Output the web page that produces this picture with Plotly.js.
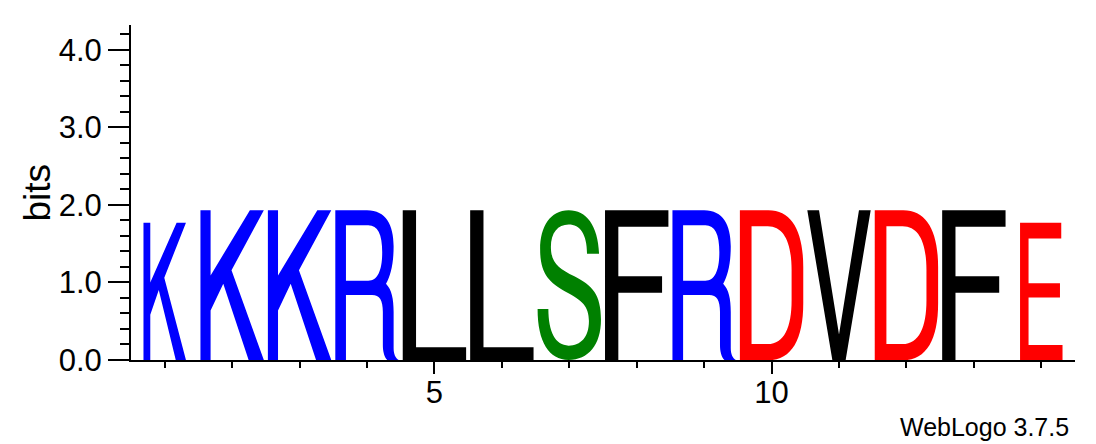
<!DOCTYPE html>
<html><head><meta charset="utf-8">
<script src="https://cdn.plot.ly/plotly-3.0.1.min.js"></script>
<style>html,body{margin:0;padding:0;background:#fff}</style>
</head><body><div id="chart" style="width:1096px;height:444px"></div>
<script>
// ---- data ----
const positions = [1,2,3,4,5,6,7,8,9,10,11,12,13,14];
const residues = ['K','K','K','R','L','L','S','F','R','D','V','D','F','E'];
const bits = [1.77,1.93,1.93,1.93,1.93,1.93,1.93,1.93,1.93,1.93,1.93,1.93,1.93,1.77];
const columnFraction = [0.67,1,1,1,1,1,1,1,1,1,1,1,1,0.67];
const yTickVals = [0,1,2,3,4];
const yTickText = ['0.0','1.0','2.0','3.0','4.0'];
const xTickVals = [5,10];
const xTickText = ['5','10'];

// ---- styles ----
const colors = {K:'#0000ff', R:'#0000ff', L:'#000000', F:'#000000', V:'#000000',
                S:'#008000', D:'#ff0000', E:'#ff0000'};
const fullWidth = 0.94;

// glyph outlines in a unit box (x 0..1 left->right, y 0..1 bottom->top)
const glyphs = {
  K: 'M 0 0 L 0.16 0 L 0.16 0.33 L 0.36 0.51 L 0.76 0 L 1 0 L 0.49 0.60 L 1 1 L 0.78 1 L 0.16 0.565 L 0.16 1 L 0 1 Z',
  R: 'M 0 0 L 0 1 L 0.50 1 C 0.80 1 0.92 0.90 0.92 0.76 C 0.92 0.64 0.87 0.56 0.80 0.51 C 0.89 0.47 0.92 0.41 0.92 0.32 L 0.92 0.08 C 0.92 0.04 0.95 0.01 1 0 L 0.82 0 C 0.77 0.02 0.75 0.06 0.75 0.10 L 0.75 0.32 C 0.75 0.40 0.70 0.435 0.58 0.435 L 0.168 0.435 L 0.168 0 Z ' +
     'M 0.168 0.53 L 0.168 0.90 L 0.52 0.90 C 0.67 0.90 0.74 0.84 0.74 0.72 C 0.74 0.60 0.67 0.53 0.52 0.53 Z',
  L: 'M 0 0 L 1 0 L 1 0.085 L 0.21 0.085 L 0.21 1 L 0 1 Z',
  S: 'M 0.97 0.71 C 0.95 0.90 0.77 1 0.49 1 C 0.20 1 0.04 0.89 0.04 0.74 C 0.04 0.58 0.17 0.52 0.45 0.455 C 0.70 0.40 0.81 0.36 0.81 0.26 C 0.81 0.15 0.68 0.096 0.49 0.096 C 0.28 0.096 0.17 0.19 0.17 0.34 L 0 0.34 ' +
     'C 0 0.12 0.18 0 0.49 0 C 0.80 0 1 0.10 1 0.27 C 1 0.44 0.86 0.50 0.58 0.56 C 0.33 0.61 0.21 0.65 0.21 0.755 C 0.21 0.85 0.32 0.905 0.49 0.905 C 0.67 0.905 0.78 0.84 0.78 0.71 Z',
  F: 'M 0 0 L 0.21 0 L 0.21 0.45 L 0.90 0.45 L 0.90 0.56 L 0.21 0.56 L 0.21 0.89 L 1 0.89 L 1 1 L 0 1 Z',
  D: 'M 0 0 L 0 1 L 0.45 1 C 0.82 1 1 0.86 1 0.62 L 1 0.38 C 1 0.14 0.82 0 0.45 0 Z ' +
     'M 0.184 0.107 L 0.184 0.893 L 0.44 0.893 C 0.70 0.893 0.816 0.78 0.816 0.60 L 0.816 0.40 C 0.816 0.22 0.70 0.107 0.44 0.107 Z',
  V: 'M 0 1 L 0.185 1 L 0.5 0.17 L 0.815 1 L 1 1 L 0.605 0 L 0.395 0 Z',
  E: 'M 0 0 L 1 0 L 1 0.11 L 0.20 0.11 L 0.20 0.455 L 0.94 0.455 L 0.94 0.56 L 0.20 0.56 L 0.20 0.885 L 0.97 0.885 L 0.97 1 L 0 1 Z'
};

function glyphPath(ch, cx, w, h) {
  const tokens = glyphs[ch].match(/[A-Za-z]|-?\d*\.?\d+/g);
  const out = [];
  let parity = 0;
  for (const t of tokens) {
    if (/[A-Za-z]/.test(t)) { out.push(t); parity = 0; continue; }
    const v = parseFloat(t);
    if (parity === 0) out.push((cx - w / 2 + v * w).toFixed(5));
    else out.push((v * h).toFixed(5));
    parity = 1 - parity;
  }
  return out.join(' ');
}

const shapes = positions.map((p, i) => ({
  type: 'path', xref: 'x', yref: 'y',
  path: glyphPath(residues[i], p, fullWidth * columnFraction[i], bits[i]),
  fillcolor: colors[residues[i]], fillrule: 'evenodd',
  line: {width: 0}, layer: 'above'
}));

const FONT = 'Liberation Sans, Arial, Helvetica, sans-serif';

const trace = {x: positions, y: bits, type: 'scatter', mode: 'markers',
  marker: {opacity: 0}, hoverinfo: 'skip', showlegend: false};

const layout = {
  width: 1096, height: 444,
  margin: {l: 131, r: 21, t: 25, b: 84},
  paper_bgcolor: '#fff', plot_bgcolor: '#fff',
  showlegend: false,
  font: {family: FONT, color: '#000'},
  xaxis: {
    range: [0.5, 14.5], showgrid: false, zeroline: false,
    showline: true, linecolor: '#000', linewidth: 2,
    ticks: 'outside', ticklen: 12, tickwidth: 2, tickcolor: '#000',
    tickmode: 'array', tickvals: xTickVals, ticktext: xTickText,
    tickfont: {size: 31, family: FONT, color: '#000'},
    ticklabelstandoff: -8,
    minor: {tickmode: 'array', tickvals: positions, ticks: 'outside', ticklen: 6, tickwidth: 2, tickcolor: '#000', showgrid: false}
  },
  yaxis: {
    range: [0, 4.32], showgrid: false, zeroline: false,
    showline: true, linecolor: '#000', linewidth: 2,
    ticks: 'outside', ticklen: 21, tickwidth: 2, tickcolor: '#000',
    tickmode: 'array', tickvals: yTickVals, ticktext: yTickText,
    tickfont: {size: 31, family: FONT, color: '#000'},
    minor: {dtick: 0.2, ticks: 'outside', ticklen: 9, tickwidth: 2, tickcolor: '#000', showgrid: false}
  },
  shapes: shapes,
  annotations: [
    {text: 'bits', xref: 'paper', yref: 'paper', x: (37 - 131) / 944, y: 0.5,
     xanchor: 'center', yanchor: 'middle', textangle: -90, showarrow: false,
     font: {size: 37, family: FONT, color: '#000'}},
    {text: 'WebLogo 3.7.5', xref: 'paper', yref: 'paper', x: (1071 - 131) / 944, y: (360 - 427) / 335,
     xanchor: 'right', yanchor: 'middle', showarrow: false,
     font: {size: 25, family: FONT, color: '#000'}}
  ]
};

Plotly.newPlot('chart', [trace], layout, {displayModeBar: false, staticPlot: true});
</script>
</body></html>
